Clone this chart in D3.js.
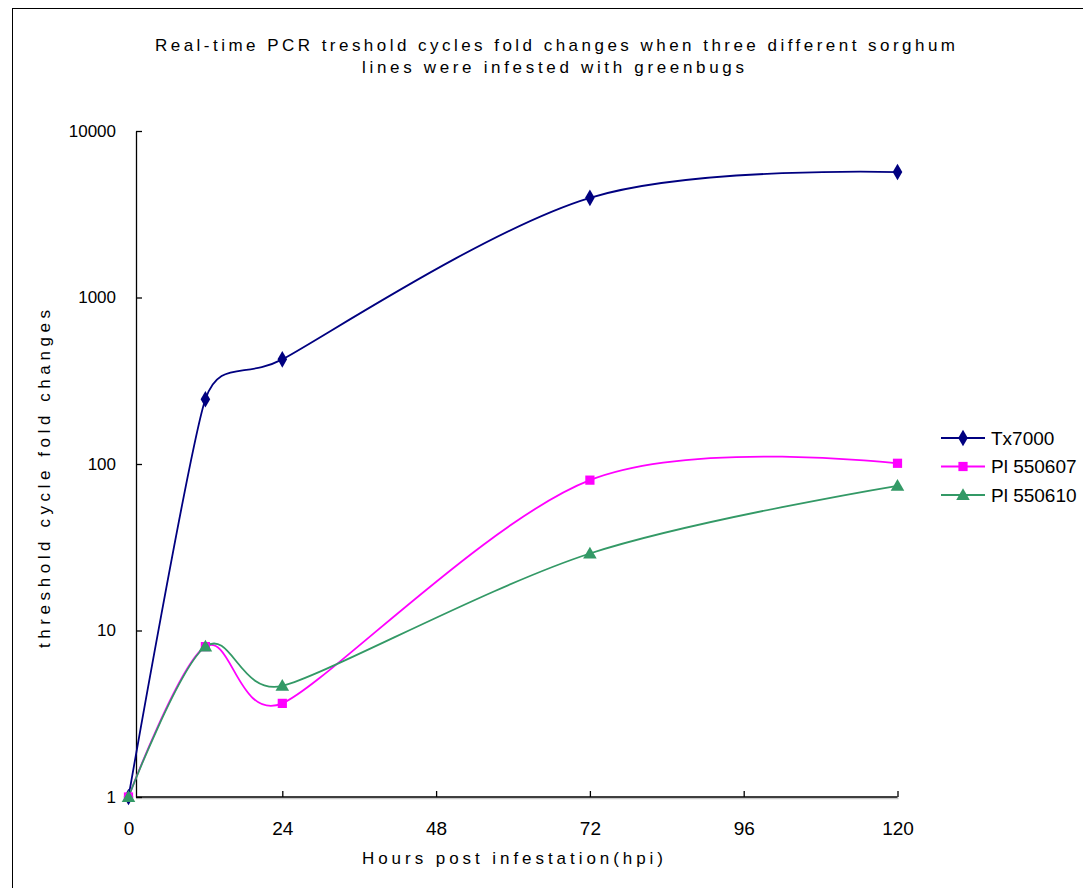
<!DOCTYPE html>
<html>
<head>
<meta charset="utf-8">
<script src="https://cdn.jsdelivr.net/npm/d3@7"></script>
<style>
  body { margin: 0; background: #fff; }
  svg { display: block; font-family: Arial, "Liberation Sans", sans-serif; }
</style>
</head>
<body>
<script>
// data
const hours = [0, 12, 24, 72, 120];
const xTicks = [0, 24, 48, 72, 96, 120];
const yTicks = [1, 10, 100, 1000, 10000];
const seriesNames = ["Tx7000", "PI 550607", "PI 550610"];
const tx7000 = [1, 245, 425, 3970, 5670];
const pi550607 = [1, 8, 3.65, 80, 101];
const pi550610 = [1, 8, 4.65, 29, 74];

const width = 1083, height = 888;
const colors = ["#000080", "#ff00ff", "#339966"];
const shapes = [d3.symbolDiamond, d3.symbolSquare, d3.symbolTriangle];
const shapeSizes = [80, 85, 80];

const series = [tx7000, pi550607, pi550610].map((vals, i) => ({
  name: seriesNames[i],
  color: colors[i],
  shape: shapes[i],
  size: shapeSizes[i],
  points: vals.map((v, j) => ({ x: hours[j], y: v }))
}));

const x = d3.scaleLinear().domain([0, 120]).range([128.5, 897.5]);
const y = d3.scaleLog().domain([1, 10000]).range([797, 131]);
const axisX = 136; // where the value axis crosses

// Excel-like smoothed line: bezier with tangents (P[i+1]-P[i-1])/6,
// shortened when a neighbouring segment is short
function smoothPath(pts) {
  const p = d3.path();
  const dist = (a, b) => Math.hypot(a[0] - b[0], a[1] - b[1]);
  const ctrl = pts.map((pt, i) => {
    if (i === 0 || i === pts.length - 1) return { in: pt, out: pt };
    const a = pts[i - 1], b = pts[i + 1];
    const d01 = dist(a, pt), d12 = dist(pt, b), d02 = dist(a, b);
    let f = 1 / 6;
    if (d02 * f > d01 / 2 || d02 * f > d12 / 2) f = Math.min(d01, d12) / (2 * d02);
    const tx = (b[0] - a[0]) * f, ty = (b[1] - a[1]) * f;
    return { in: [pt[0] - tx, pt[1] - ty], out: [pt[0] + tx, pt[1] + ty] };
  });
  p.moveTo(pts[0][0], pts[0][1]);
  for (let i = 1; i < pts.length; i++) {
    const c1 = ctrl[i - 1].out, c2 = ctrl[i].in;
    p.bezierCurveTo(c1[0], c1[1], c2[0], c2[1], pts[i][0], pts[i][1]);
  }
  return p.toString();
}

const svg = d3.select("body").append("svg")
    .attr("width", width)
    .attr("height", height);

// chart frame (cropped at right/bottom)
svg.append("rect")
    .attr("x", 12.5).attr("y", 8.5)
    .attr("width", 1200).attr("height", 1000)
    .attr("fill", "none").attr("stroke", "#000").attr("stroke-width", 1);

// title
const title = svg.append("g").attr("font-size", 17).attr("fill", "#000");
title.append("text")
    .attr("x", 155).attr("y", 51)
    .attr("textLength", 800).attr("lengthAdjust", "spacing")
    .text("Real-time PCR treshold cycles fold changes when three different sorghum");
title.append("text")
    .attr("x", 362).attr("y", 73)
    .attr("textLength", 382).attr("lengthAdjust", "spacing")
    .text("lines were infested with greenbugs");

// shadow under x axis
svg.append("line")
    .attr("x1", axisX).attr("x2", x(120) + 1)
    .attr("y1", y(1) + 1.5).attr("y2", y(1) + 1.5)
    .attr("stroke", "#c8c8c8").attr("stroke-width", 1.5);

// y axis
const yAxis = svg.append("g")
    .attr("transform", `translate(${axisX},0)`)
    .call(d3.axisLeft(y).tickValues(yTicks).tickFormat(d3.format("d"))
      .tickSizeInner(-6).tickSizeOuter(0).tickPadding(20));
yAxis.selectAll("text").attr("font-size", 17).attr("fill", "#000");
yAxis.selectAll("line, path").attr("stroke", "#000").attr("stroke-width", 1.3);

// x axis
const xAxis = svg.append("g")
    .attr("transform", `translate(0,${y(1)})`)
    .call(d3.axisBottom(x).tickValues(xTicks)
      .tickSizeInner(-6).tickSizeOuter(0).tickPadding(25));
xAxis.select(".domain").remove();
xAxis.selectAll(".tick").filter(d => d === 0).select("line").remove();
xAxis.selectAll("text").attr("font-size", 19).attr("fill", "#000");
xAxis.selectAll("line").attr("stroke", "#000").attr("stroke-width", 1.3);
xAxis.append("line")
    .attr("x1", axisX).attr("x2", x(120))
    .attr("stroke", "#000").attr("stroke-width", 1.5);

// axis titles
svg.append("text")
    .attr("x", 362).attr("y", 864)
    .attr("font-size", 17)
    .attr("textLength", 301).attr("lengthAdjust", "spacing")
    .text("Hours post infestation(hpi)");
svg.append("text")
    .attr("transform", "translate(50,648) rotate(-90)")
    .attr("font-size", 17)
    .attr("textLength", 338).attr("lengthAdjust", "spacing")
    .text("threshold cycle fold changes");

// lines
const g = svg.append("g");
g.selectAll("path.series")
  .data(series)
  .join("path")
    .attr("class", "series")
    .attr("fill", "none")
    .attr("stroke", d => d.color)
    .attr("stroke-width", 1.8)
    .attr("d", d => smoothPath(d.points.map(p => [x(p.x), y(p.y)])));

series.forEach(s => {
  g.selectAll(null)
    .data(s.points)
    .join("path")
      .attr("transform", d => `translate(${x(d.x)},${y(d.y) + (s.shape === d3.symbolTriangle ? 1 : 0)})`)
      .attr("d", d3.symbol(s.shape, s.size))
      .attr("fill", s.color);
});

// legend
const legend = svg.append("g")
  .selectAll("g")
  .data(series)
  .join("g")
    .attr("transform", (d, i) => `translate(941,${438 + i * 28.5})`);
legend.append("line")
    .attr("x1", 0).attr("x2", 44)
    .attr("stroke", d => d.color).attr("stroke-width", 1.8);
legend.append("path")
    .attr("transform", d => `translate(22,${d.shape === d3.symbolTriangle ? 1 : 0})`)
    .attr("d", d => d3.symbol(d.shape, d.size)())
    .attr("fill", d => d.color);
legend.append("text")
    .attr("x", 50).attr("y", 0).attr("dy", "0.35em")
    .attr("font-size", 19)
    .text(d => d.name.replace("PI ", "Pl "));
</script>
</body>
</html>
